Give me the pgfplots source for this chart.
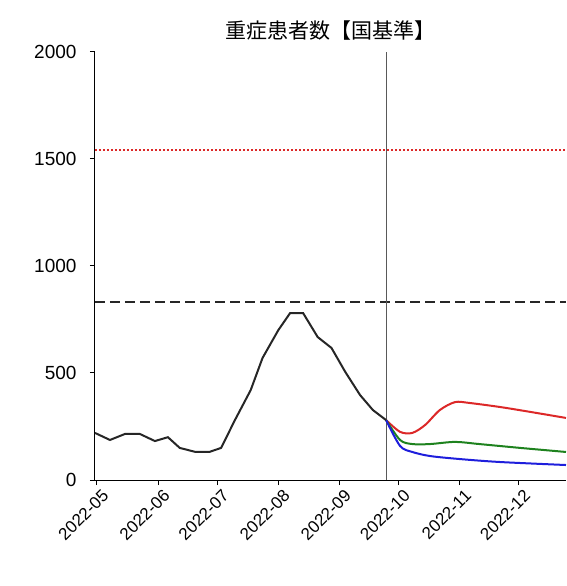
\documentclass[border=0pt]{standalone}
\usepackage{pgfplots}
\pgfplotsset{compat=1.18}
\usepackage{fontspec}
\setmainfont{Liberation Sans}
\newfontfamily\cjk{Noto Sans CJK JP}
\definecolor{cred}{RGB}{220,40,40}
\definecolor{cgreen}{RGB}{30,130,30}
\definecolor{cblue}{RGB}{30,30,220}
\begin{document}
\begin{tikzpicture}
\useasboundingbox (-95pt,-106pt) rectangle (471pt,480pt);
\begin{axis}[at={(0,0)},anchor=south west,
  scale only axis,width=471pt,height=428pt,
  xmin=-1,xmax=238,ymin=0,ymax=2000,
  axis x line*=bottom, axis y line*=left,
  axis line style={-,line width=1pt},
  xtick={0,31,61,92,123,153,184,214},
  xticklabels={2022-05,2022-06,2022-07,2022-08,2022-09,2022-10,2022-11,2022-12},
  x tick label style={rotate=45,anchor=north east,font=\fontsize{17}{19}\selectfont,yshift=-2pt,xshift=4pt},
  ytick={0,500,1000,1500,2000},
  y tick label style={font=\fontsize{19}{21}\selectfont,xshift=-10pt},
  /pgf/number format/assume math mode=true,
  /pgf/number format/1000 sep={},
  tick align=outside, major tick length=5pt, tick style={line width=1pt,black},
  title={\cjk 重症患者数【国基準】}, title style={font=\fontsize{21}{24}\selectfont,yshift=2pt},
  clip=false]
\addplot[black!85,line width=2.2pt,dash pattern=on 10pt off 5pt] coordinates {(-1,830) (238,830)};
\addplot[cred,dotted,line width=2pt] coordinates {(-1,1542) (238,1542)};
\addplot[gray!70!black,line width=1pt] coordinates {(146.7,0) (146.7,2000)};
\addplot[cred,line width=2pt,smooth] coordinates {(146.7,280) (153.8,225) (160,220) (166.5,257) (174,327) (181.7,364) (189,360) (204.6,341) (220,318) (238,290)};
\addplot[cgreen,line width=2pt,smooth] coordinates {(146.7,280) (153.8,187) (160,168) (169,168) (181.7,178) (194,168) (214.7,150) (238,131)};
\addplot[cblue,line width=2pt,smooth] coordinates {(146.7,280) (153.8,159) (160,131) (169,112) (184,98) (204.6,84) (238,70)};
\addplot[black!85,line width=2pt] coordinates {(-1,220) (6.6,187) (14.2,215) (21.8,215) (29.4,182) (36,200) (42,150) (50,131) (57,131) (63,150) (70,280) (78,420) (84,570) (92,700) (98,780) (104.6,780) (112,668) (119,617) (126,505) (133.5,397) (140,327) (146.7,280)};
\end{axis}
\end{tikzpicture}
\end{document}
